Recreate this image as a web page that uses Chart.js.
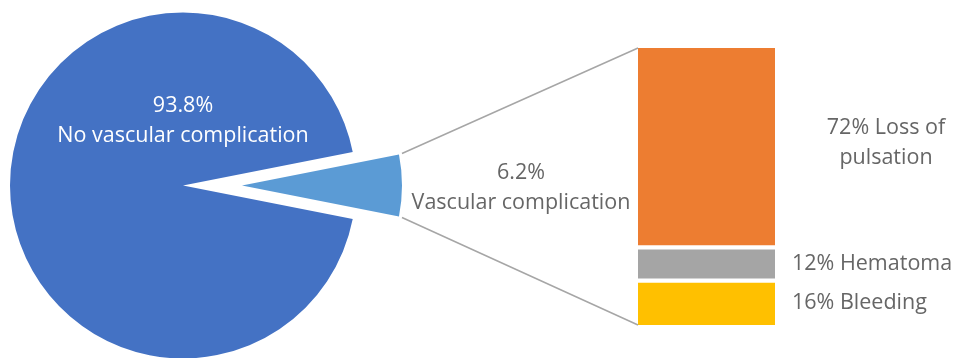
<!DOCTYPE html>
<html>
<head>
<meta charset="utf-8">
<script src="https://cdn.jsdelivr.net/npm/chart.js@4.4.1/dist/chart.umd.min.js"></script>
<style>
  html, body { margin: 0; padding: 0; background: #ffffff; }
  #wrap { position: relative; width: 954px; height: 358px; overflow: hidden; background: #ffffff; }
  #wrap canvas { position: absolute; left: 0; top: 0; }
</style>
</head>
<body>
<div id="wrap">
  <canvas id="pieMain" width="954" height="358"></canvas>
  <canvas id="pieSplit" width="954" height="358"></canvas>
  <canvas id="barSplit" width="954" height="358"></canvas>
</div>
<script>
// Share of procedures with / without vascular complication
const pieLabels = ['No vascular complication', 'Vascular complication'];
const pieValues = [93.8, 6.2];

// Breakdown of the vascular complications (bottom to top of the stack)
const barLabels = ['Bleeding', 'Hematoma', 'Loss of\npulsation'];
const barValues = [16, 12, 72];

const pieColors = ['#4472C4', '#5B9BD5'];
const barColors = ['#FFC000', '#A5A5A5', '#ED7D31'];
const TEXT_GREY = '#666666';
const FONT = '"Open Sans", "Noto Sans", sans-serif';
const FONT_SIZE = 21.5;

Chart.defaults.animation = false;

// Start the slices so the small one is centred on the right-hand side
const pieOrder = [pieValues[1], pieValues[0]];
const pieTotal = pieValues[0] + pieValues[1];
const pieRotation = 90 - (pieValues[1] / pieTotal) * 180;

const noScalesPie = {
  responsive: false,
  rotation: pieRotation,
  plugins: { legend: { display: false }, tooltip: { enabled: false } },
  events: []
};

// Main pie: the large slice, small slice left empty (it is drawn pulled out)
const pieMain = new Chart(document.getElementById('pieMain'), {
  type: 'pie',
  data: {
    labels: [pieLabels[1], pieLabels[0]],
    datasets: [{
      data: pieOrder,
      backgroundColor: ['rgba(0,0,0,0)', pieColors[0]],
      borderWidth: 0,
      radius: 173
    }]
  },
  options: Object.assign({}, noScalesPie, {
    layout: { padding: { left: 10, right: 598, top: 13, bottom: 0 } }
  }),
  plugins: [{
    id: 'mainLabel',
    afterDatasetsDraw(chart) {
      const arc = chart.getDatasetMeta(0).data[1];
      const ctx = chart.ctx;
      ctx.save();
      ctx.fillStyle = '#ffffff';
      ctx.font = FONT_SIZE + 'px ' + FONT;
      ctx.textAlign = 'center';
      ctx.textBaseline = 'middle';
      ctx.fillText(pieValues[0].toFixed(1) + '%', arc.x, arc.y - 80);
      ctx.fillText(pieLabels[0], arc.x, arc.y - 50);
      ctx.restore();
    }
  }]
});

// Pulled-out slice for the vascular complications
const pieSplit = new Chart(document.getElementById('pieSplit'), {
  type: 'pie',
  data: {
    labels: [pieLabels[1], pieLabels[0]],
    datasets: [{
      data: pieOrder,
      backgroundColor: [pieColors[1], 'rgba(0,0,0,0)'],
      borderWidth: 0,
      radius: 160
    }]
  },
  options: Object.assign({}, noScalesPie, {
    layout: { padding: { left: 69, right: 539, top: 13, bottom: 0 } }
  })
});

// Stacked bar splitting the 6.2%, with connector lines and labels
new Chart(document.getElementById('barSplit'), {
  type: 'bar',
  data: {
    labels: ['Vascular complication'],
    datasets: barValues.map((v, i) => ({
      label: barLabels[i],
      data: [v],
      backgroundColor: barColors[i],
      borderColor: '#ffffff',
      borderSkipped: false,
      borderWidth: i === 0 ? { top: 2.5, bottom: 0, left: 0, right: 0 }
        : i === barValues.length - 1 ? { top: 0, bottom: 2.5, left: 0, right: 0 }
        : { top: 2.5, bottom: 2.5, left: 0, right: 0 },
      barPercentage: 1,
      categoryPercentage: 1
    }))
  },
  options: {
    responsive: false,
    events: [],
    layout: { padding: { left: 638, right: 179, top: 48, bottom: 33 } },
    scales: {
      x: { stacked: true, display: false },
      y: { stacked: true, display: false, min: 0, max: 100 }
    },
    plugins: { legend: { display: false }, tooltip: { enabled: false } }
  },
  plugins: [{
    id: 'splitDecor',
    afterDatasetsDraw(chart) {
      const ctx = chart.ctx;
      const slice = pieSplit.getDatasetMeta(0).data[0];
      const metas = barValues.map((_, i) => chart.getDatasetMeta(i).data[0]);
      const bottomBar = metas[0];
      const topBar = metas[metas.length - 1];
      const barLeft = topBar.x - topBar.width / 2;
      const barRight = topBar.x + topBar.width / 2;
      const r = slice.outerRadius;

      // connector lines from the slice's outer corners to the bar's corners
      ctx.save();
      ctx.strokeStyle = '#A6A6A6';
      ctx.lineWidth = 1.5;
      ctx.beginPath();
      ctx.moveTo(slice.x + r * Math.cos(slice.startAngle) + 3, slice.y + r * Math.sin(slice.startAngle) - 1);
      ctx.lineTo(barLeft, topBar.y);
      ctx.moveTo(slice.x + r * Math.cos(slice.endAngle) + 3, slice.y + r * Math.sin(slice.endAngle) + 1);
      ctx.lineTo(barLeft, bottomBar.base);
      ctx.stroke();

      ctx.fillStyle = TEXT_GREY;
      ctx.font = FONT_SIZE + 'px ' + FONT;
      ctx.textBaseline = 'middle';

      // label for the pulled-out slice
      const midX = (slice.x + r + barLeft) / 2 + 1;
      ctx.textAlign = 'center';
      ctx.fillText(pieValues[1].toFixed(1) + '%', midX, slice.y - 13);
      ctx.fillText(pieLabels[1], midX, slice.y + 17);

      // labels for the bar segments
      metas.forEach((bar, i) => {
        const lines = (barValues[i] + '% ' + barLabels[i]).split('\n');
        const cy = (bar.y + bar.base) / 2;
        if (lines.length > 1) {
          ctx.textAlign = 'center';
          lines.forEach((ln, k) => {
            ctx.fillText(ln, barRight + 111, cy - 5 + (k - (lines.length - 1) / 2) * 30);
          });
        } else {
          ctx.textAlign = 'left';
          ctx.fillText(lines[0], barRight + 17, cy);
        }
      });
      ctx.restore();
    }
  }]
});
</script>
</body>
</html>
